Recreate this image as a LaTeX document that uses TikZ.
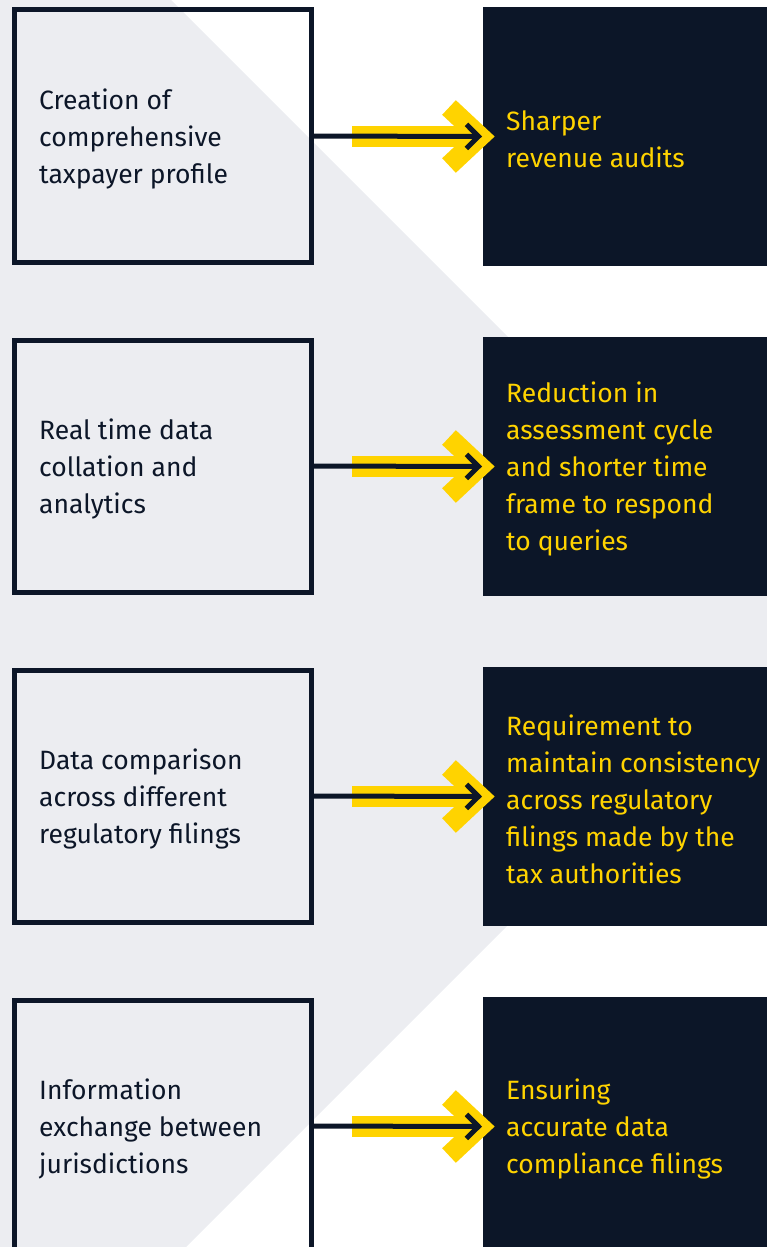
\documentclass[tikz,border=0pt]{standalone}
\usepackage{fontspec}
\setmainfont{Fira Sans}
\usetikzlibrary{arrows.meta}
\definecolor{bggray}{HTML}{ECEDF1}
\definecolor{navy}{HTML}{0C1628}
\definecolor{eyyellow}{HTML}{FFD300}
\begin{document}
\begin{tikzpicture}[x=1pt,y=-1pt,
  leftbox/.style={draw=navy, line width=5pt, minimum width=297pt, minimum height=252pt, inner sep=0pt},
  rightbox/.style={fill=navy, minimum width=284pt, minimum height=259pt, inner sep=0pt, outer sep=0pt},
  ltext/.style={anchor=west, align=left, inner sep=0pt, text=navy, font=\fontsize{26.5}{37}\selectfont},
  rtext/.style={anchor=west, align=left, inner sep=0pt, text=eyyellow, font=\fontsize{26.5}{37}\selectfont},
  ybar/.style={eyyellow, line width=21pt},
  ychev/.style={eyyellow, line width=20pt, miter limit=10},
  conn/.style={navy, line width=5pt, -{Straight Barb[length=12pt,width=24pt]}}
]
\useasboundingbox (0,0) rectangle (767,1247);
\fill[bggray] (0,0) -- (171,0) -- (767,596) -- (767,666) -- (186,1247) -- (0,1247) -- cycle;

\foreach \i/\y in {1/136, 2/466, 3/796, 4/1126} {
  \node[leftbox] (L\i) at (162.5,\y) {};
  \node[rightbox] (R\i) at (625,\y+0.5) {};
}

\node[ltext] (lt1) at (39,139) {Creation of\\comprehensive\\taxpayer profile};
\node[ltext] (lt2) at (39,469) {Real time data\\collation and\\analytics};
\node[ltext] (lt3) at (39,799) {Data comparison\\across different\\regulatory filings};
\node[ltext] (lt4) at (39,1129) {Information\\exchange between\\jurisdictions};

\node[rtext] (rt1) at (506,139) {Sharper\\revenue audits};
\node[rtext] (rt2) at (506,469) {Reduction in\\assessment cycle\\and shorter time\\frame to respond\\to queries};
\node[rtext] (rt3) at (506,799) {Requirement to\\maintain consistency\\across regulatory\\filings made by the\\tax authorities};
\node[rtext] (rt4) at (506,1129) {Ensuring\\accurate data\\compliance filings};

\foreach \i in {1,2,3,4} {
  \draw[ybar] ([xshift=-131pt]R\i.west) -- ([xshift=-12pt]R\i.west);
  \draw[ychev] ([xshift=-34pt,yshift=-29pt]R\i.west) -- ([xshift=-3pt]R\i.west) -- ([xshift=-34pt,yshift=29pt]R\i.west);
  \draw[conn] (L\i.east) -- ([xshift=-1pt]R\i.west);
}
\end{tikzpicture}
\end{document}
